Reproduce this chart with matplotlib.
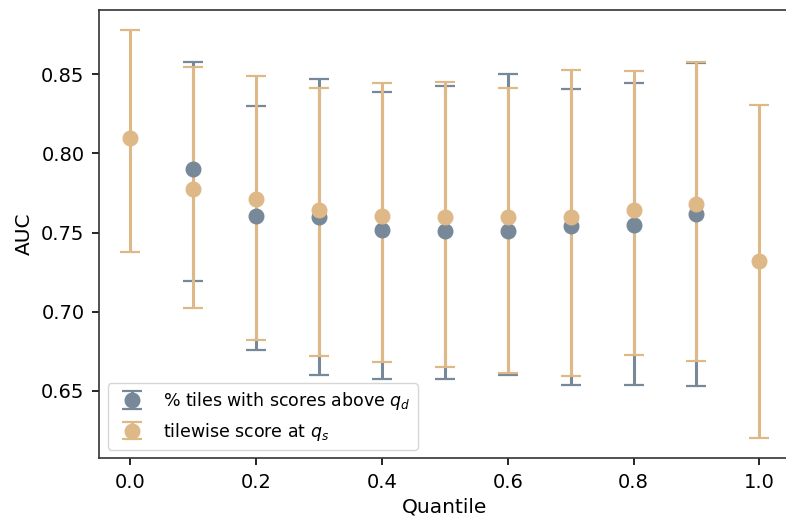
import matplotlib
matplotlib.use("Agg")
import matplotlib.pyplot as plt
import numpy as np

# Quantiles
q_blue = [0.1, 0.2, 0.3, 0.4, 0.5, 0.6, 0.7, 0.8, 0.9]
q_orange = [0.0, 0.1, 0.2, 0.3, 0.4, 0.5, 0.6, 0.7, 0.8, 0.9, 1.0]

# % tiles with scores above q_d
blue_mean = [0.7904, 0.7603, 0.7598, 0.7514, 0.7508, 0.7508, 0.7541, 0.7546, 0.7615]
blue_low = [0.7192, 0.6760, 0.6598, 0.6577, 0.6577, 0.6598, 0.6539, 0.6539, 0.6533]
blue_high = [0.8576, 0.8298, 0.8468, 0.8388, 0.8428, 0.8500, 0.8407, 0.8447, 0.8570]

# tilewise score at q_s
orange_mean = [0.8096, 0.7773, 0.7715, 0.7641, 0.7607, 0.7598, 0.7598, 0.7598, 0.7645, 0.7683, 0.7318]
orange_low = [0.7375, 0.7021, 0.6819, 0.6722, 0.6682, 0.6650, 0.6613, 0.6592, 0.6729, 0.6688, 0.6202]
orange_high = [0.8778, 0.8546, 0.8487, 0.8414, 0.8447, 0.8451, 0.8414, 0.8525, 0.8519, 0.8576, 0.8304]

blue_label = r"% tiles with scores above $q_d$"
orange_label = r"tilewise score at $q_s$"

blue_c = "#778899"
orange_c = "#deb887"

fig = plt.figure(figsize=(7.86, 5.19), dpi=100)
ax = fig.add_axes([0.126, 0.1166, 0.88, 0.8644])

def yerr(mean, low, high):
    m = np.array(mean); return [m - np.array(low), np.array(high) - m]

ax.errorbar(q_blue, blue_mean, yerr=yerr(blue_mean, blue_low, blue_high),
            fmt="o", color=blue_c, ms=10.5, elinewidth=2.2, capsize=7.5, capthick=1.6,
            label=blue_label)
ax.errorbar(q_orange, orange_mean, yerr=yerr(orange_mean, orange_low, orange_high),
            fmt="o", color=orange_c, ms=10.5, elinewidth=2.2, capsize=7.5, capthick=1.6,
            label=orange_label)

ax.set_xlabel("Quantile", fontsize=14.5, labelpad=4)
ax.set_ylabel("AUC", fontsize=14.5, labelpad=5)
ax.tick_params(labelsize=14, length=5, width=1.2, pad=5.5)
for s in ax.spines.values():
    s.set_linewidth(1.2)
    s.set_color("#333333")
ax.set_yticks([0.65, 0.70, 0.75, 0.80, 0.85])
ax.set_xticks([0.0, 0.2, 0.4, 0.6, 0.8, 1.0])
ax.legend(loc="lower left", fontsize=12.5)

fig.savefig("out.png", dpi=100)
